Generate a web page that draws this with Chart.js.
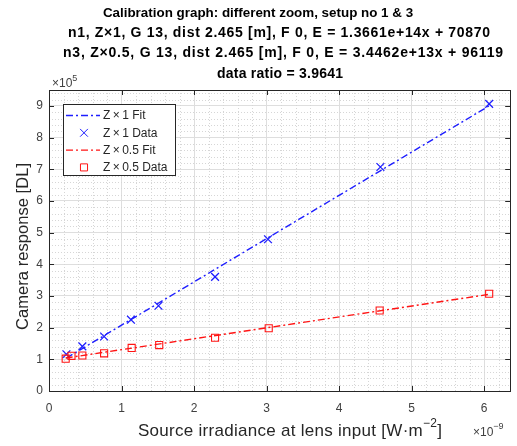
<!DOCTYPE html>
<html>
<head>
<meta charset="utf-8">
<script src="https://cdn.jsdelivr.net/npm/chart.js@4.4.1/dist/chart.umd.min.js"></script>
<style>
  html, body { margin: 0; padding: 0; background: #fff; }
  #wrap { width: 517px; height: 446px; }
</style>
</head>
<body>
<div id="wrap"><canvas id="chart" width="517" height="446"></canvas></div>
<script>
// ---- data (x in 1e-9 W/m^2, y in 1e5 DL) ----
const titleLines = [
  "Calibration graph: different zoom, setup no 1 & 3",
  "n1, Z\u00d71, G 13, dist 2.465 [m], F 0, E = 1.3661e+14x + 70870",
  "n3, Z\u00d70.5, G 13, dist 2.465 [m], F 0, E = 3.4462e+13x + 96119",
  "data ratio = 3.9641"
];
const legendLabels = ["Z\u2009\u00d7\u20091 Fit", "Z\u2009\u00d7\u20091 Data", "Z\u2009\u00d7\u20090.5 Fit", "Z\u2009\u00d7\u20090.5 Data"];

const z1X = [0.24, 0.46, 0.76, 1.13, 1.51, 2.29, 3.02, 4.57, 6.07];
const z1Y = [1.16, 1.41, 1.72, 2.25, 2.69, 3.60, 4.79, 7.07, 9.06];
const z1FitX = [0.24, 6.07];
const z1FitY = [1.04, 9.00];

const z05X = [0.23, 0.31, 0.46, 0.76, 1.14, 1.52, 2.29, 3.03, 4.56, 6.07];
const z05Y = [1.02, 1.11, 1.12, 1.19, 1.36, 1.45, 1.68, 1.98, 2.54, 3.07];
const z05FitX = [0.23, 6.07];
const z05FitY = [1.04, 3.05];

const xTicks = [0, 1, 2, 3, 4, 5, 6];
const yTicks = [0, 1, 2, 3, 4, 5, 6, 7, 8, 9];
const xMax = 6.36;
const yMax = 9.5;

const FONT = "'Liberation Sans', Arial, sans-serif";
const AXIS = '#262626';
const BLUE = 'rgb(30,30,255)';
const RED = 'rgb(255,20,20)';
const DASHDOT = [7, 3, 2, 3];

const pts = (xs, ys) => xs.map((x, i) => ({ x: x, y: ys[i] }));

// text drawn with extra letter spacing so it fills a given width (matlab tex text runs wide)
function spacedText(ctx, text, cx, y, width) {
  ctx.letterSpacing = '0px';
  const w = ctx.measureText(text).width;
  const s = Math.max(0, (width - w) / Math.max(1, text.length - 1));
  ctx.letterSpacing = s + 'px';
  ctx.textAlign = 'left';
  ctx.fillText(text, cx - (w + s * (text.length - 1)) / 2, y);
  ctx.letterSpacing = '0px';
}

// draws the matlab-ish stuff chart.js doesn't do by itself
const matlabDecor = {
  id: 'matlabDecor',
  beforeDatasetsDraw(chart) {
    const ctx = chart.ctx, a = chart.chartArea;
    const xs = chart.scales.x, ys = chart.scales.y;
    ctx.save();
    ctx.strokeStyle = '#d6d6d6';
    ctx.lineWidth = 1;
    ctx.setLineDash([1, 2]);
    for (let i = 1; i * 0.2 < xMax; i++) {
      if (i % 5 === 0) continue;
      const px = Math.round(xs.getPixelForValue(i * 0.2)) + 0.5;
      ctx.beginPath(); ctx.moveTo(px, a.top); ctx.lineTo(px, a.bottom); ctx.stroke();
    }
    for (let i = 1; i * 0.2 < yMax; i++) {
      if (i % 5 === 0) continue;
      const py = Math.round(ys.getPixelForValue(i * 0.2)) + 0.5;
      ctx.beginPath(); ctx.moveTo(a.left, py); ctx.lineTo(a.right, py); ctx.stroke();
    }
    ctx.restore();
  },
  afterDatasetsDraw(chart) {
    const ctx = chart.ctx, a = chart.chartArea;
    const xs = chart.scales.x, ys = chart.scales.y;
    ctx.save();
    ctx.strokeStyle = AXIS;
    ctx.lineWidth = 1;
    ctx.strokeRect(Math.round(a.left) + 0.5, Math.round(a.top) + 0.5,
                   Math.round(a.right - a.left), Math.round(a.bottom - a.top));
    // inward ticks on all sides
    ctx.beginPath();
    xTicks.forEach(v => {
      const px = Math.round(xs.getPixelForValue(v)) + 0.5;
      ctx.moveTo(px, a.bottom); ctx.lineTo(px, a.bottom - 5);
      ctx.moveTo(px, a.top); ctx.lineTo(px, a.top + 5);
    });
    yTicks.forEach(v => {
      const py = Math.round(ys.getPixelForValue(v)) + 0.5;
      ctx.moveTo(a.left, py); ctx.lineTo(a.left + 5, py);
      ctx.moveTo(a.right, py); ctx.lineTo(a.right - 5, py);
    });
    ctx.stroke();
    ctx.restore();
  },
  afterDraw(chart) {
    const ctx = chart.ctx, a = chart.chartArea;
    ctx.save();
    ctx.fillStyle = '#000';
    ctx.textBaseline = 'middle';
    const tCenter = [258, 279, 283, 280];
    const tWidth = [309, 422, 440, 126];
    const tSize = [13.4, 14, 14, 14];
    titleLines.forEach((t, i) => {
      ctx.font = 'bold ' + tSize[i] + 'px ' + FONT;
      spacedText(ctx, t, tCenter[i], 13 + i * 20.3, tWidth[i]);
    });

    // axis labels
    ctx.fillStyle = AXIS;
    ctx.font = '16.5px ' + FONT;
    ctx.save();
    ctx.translate(23, (a.top + a.bottom) / 2 + 6);
    ctx.rotate(-Math.PI / 2);
    spacedText(ctx, 'Camera response [DL]', 0, 0, 167);
    ctx.restore();

    const xl1 = 'Source irradiance at lens input [W\u00b7m';
    const xl2 = '\u22122';
    const xl3 = ']';
    ctx.font = '17px ' + FONT;
    const w1 = ctx.measureText(xl1).width, w3 = ctx.measureText(xl3).width;
    ctx.font = '12px ' + FONT;
    const w2 = ctx.measureText(xl2).width;
    const sp = Math.max(0, (304 - (w1 + w2 + w3)) / (xl1.length + xl2.length));
    let sx = 138;
    ctx.textAlign = 'left';
    ctx.textBaseline = 'alphabetic';
    ctx.letterSpacing = sp + 'px';
    ctx.font = '17px ' + FONT;
    ctx.fillText(xl1, sx, 436);
    sx += w1 + sp * xl1.length;
    ctx.font = '12px ' + FONT;
    ctx.fillText(xl2, sx, 427);
    sx += w2 + sp * xl2.length;
    ctx.font = '17px ' + FONT;
    ctx.fillText(xl3, sx, 436);
    ctx.letterSpacing = '0px';

    // exponent labels
    ctx.fillStyle = '#404040';
    ctx.font = '12px ' + FONT;
    ctx.fillText('\u00d710', 52, 87);
    let ew = ctx.measureText('\u00d710').width;
    ctx.font = '9px ' + FONT;
    ctx.fillText('5', 52 + ew, 81);
    ctx.font = '12px ' + FONT;
    ctx.fillText('\u00d710', 473, 436);
    ew = ctx.measureText('\u00d710').width;
    ctx.font = '9px ' + FONT;
    ctx.fillText('\u22129', 473 + ew, 429);

    // legend
    const lx = 63.5, ly = 104.5, lw = 112, lh = 71;
    ctx.fillStyle = '#fff';
    ctx.fillRect(lx, ly, lw, lh);
    ctx.strokeStyle = AXIS;
    ctx.lineWidth = 1;
    ctx.strokeRect(lx, ly, lw, lh);
    const entries = [
      { ds: 3, line: true }, { ds: 2, line: false },
      { ds: 1, line: true }, { ds: 0, line: false }
    ];
    ctx.font = '12px ' + FONT;
    ctx.textBaseline = 'middle';
    entries.forEach((e, i) => {
      const d = chart.data.datasets[e.ds];
      const y = 115.5 + i * 17.3;
      if (e.line) {
        ctx.save();
        ctx.strokeStyle = d.borderColor;
        ctx.lineWidth = d.borderWidth;
        ctx.setLineDash(d.borderDash);
        ctx.beginPath(); ctx.moveTo(66, y); ctx.lineTo(100, y); ctx.stroke();
        ctx.restore();
      } else {
        ctx.save();
        ctx.strokeStyle = d.pointBorderColor;
        ctx.fillStyle = 'rgba(0,0,0,0)';
        Chart.helpers.drawPoint(ctx, {
          pointStyle: d.pointStyle, rotation: 0,
          radius: d.pointRadius, borderWidth: d.pointBorderWidth
        }, 84, y);
        ctx.restore();
      }
      ctx.fillStyle = AXIS;
      ctx.fillText(legendLabels[i], 103, y + 0.5);
    });
    ctx.restore();
  }
};

new Chart(document.getElementById('chart'), {
  type: 'scatter',
  data: {
    datasets: [
      {
        label: legendLabels[3], data: pts(z05X, z05Y), showLine: false,
        pointStyle: 'rect', pointRadius: 5, pointBorderWidth: 1.1,
        pointBorderColor: RED, pointBackgroundColor: 'rgba(0,0,0,0)'
      },
      {
        label: legendLabels[2], data: pts(z05FitX, z05FitY), showLine: true,
        borderColor: RED, borderWidth: 1.4, borderDash: DASHDOT, pointRadius: 0
      },
      {
        label: legendLabels[1], data: pts(z1X, z1Y), showLine: false,
        pointStyle: 'crossRot', pointRadius: 5.5, pointBorderWidth: 1.3,
        pointBorderColor: BLUE, pointBackgroundColor: BLUE
      },
      {
        label: legendLabels[0], data: pts(z1FitX, z1FitY), showLine: true,
        borderColor: BLUE, borderWidth: 1.4, borderDash: DASHDOT, pointRadius: 0
      }
    ]
  },
  options: {
    responsive: false,
    animation: false,
    devicePixelRatio: 1,
    layout: { padding: { top: 90, left: 0, right: 5.5, bottom: 0 } },
    plugins: { legend: { display: false }, title: { display: false }, tooltip: { enabled: false } },
    scales: {
      x: {
        type: 'linear', min: 0, max: xMax,
        afterBuildTicks: s => { s.ticks = xTicks.map(v => ({ value: v })); },
        afterFit: s => { s.height = 55; },
        grid: { color: '#dedede', drawTicks: false },
        border: { display: false },
        ticks: { color: '#404040', font: { family: FONT, size: 12 }, padding: 10, maxRotation: 0 }
      },
      y: {
        type: 'linear', min: 0, max: yMax,
        afterBuildTicks: s => { s.ticks = yTicks.map(v => ({ value: v })); },
        afterFit: s => { s.width = 49; },
        grid: { color: '#dedede', drawTicks: false },
        border: { display: false },
        ticks: { color: '#404040', font: { family: FONT, size: 12 }, padding: 6 }
      }
    }
  },
  plugins: [matlabDecor]
});
</script>
</body>
</html>
